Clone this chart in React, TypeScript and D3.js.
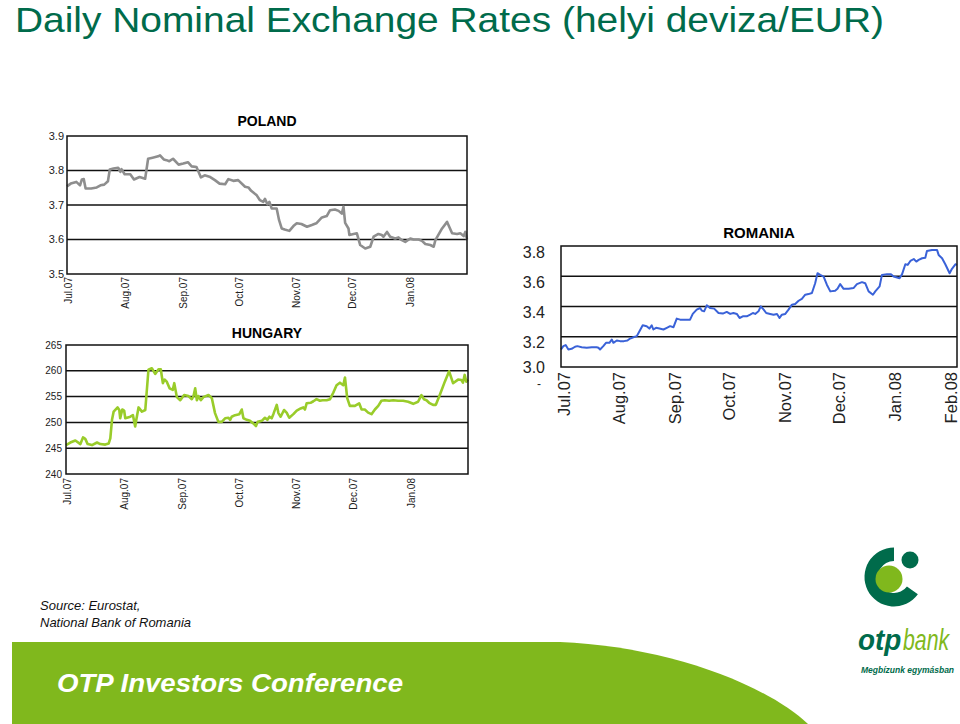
import * as d3 from 'd3';

// day offsets from 1 Jul 2007, exchange rate (local currency / EUR)
const polandSeries: [number, number][] = [
  [0, 3.754], [2, 3.762], [5, 3.767], [7, 3.757], [8, 3.774], [9, 3.775], [10, 3.748], [13, 3.748],
  [16, 3.751], [18, 3.757], [20, 3.759], [22, 3.769], [23, 3.803], [25, 3.806], [27.5, 3.808], [28.7, 3.796],
  [29.3, 3.804], [31, 3.789], [34, 3.789], [36, 3.774], [39, 3.781], [42, 3.776], [43.6, 3.834], [46, 3.837],
  [49, 3.841], [50, 3.844], [52, 3.832], [53.5, 3.83], [55, 3.827], [57, 3.834], [60, 3.817], [62.5, 3.82],
  [65, 3.824], [67, 3.812], [69.6, 3.81], [72, 3.78], [74, 3.786], [77, 3.781], [79.5, 3.772], [82, 3.762],
  [85, 3.76], [86.7, 3.775], [89.4, 3.77], [92, 3.772], [95.7, 3.753], [97.5, 3.751], [99, 3.741], [102, 3.728],
  [103.7, 3.714], [105.5, 3.709], [106.4, 3.718], [107.7, 3.702], [108.8, 3.709], [110, 3.69], [112.7, 3.69],
  [114, 3.656], [115.4, 3.632], [117, 3.629], [119.5, 3.625], [121.7, 3.639], [123.5, 3.647], [126, 3.645],
  [129, 3.637], [131.6, 3.642], [134, 3.647], [137, 3.664], [139.6, 3.668], [141.4, 3.685], [144, 3.687],
  [146, 3.683], [147.7, 3.675], [148.6, 3.695], [149.5, 3.648], [151.3, 3.632], [151.8, 3.613], [154, 3.616],
  [155.8, 3.618], [157.6, 3.584], [160.3, 3.574], [163, 3.579], [164.8, 3.608], [167.4, 3.616], [169.2, 3.613],
  [170.1, 3.608], [172, 3.622], [173.7, 3.608], [176.4, 3.603], [178.2, 3.606], [180, 3.598], [181.8, 3.593],
  [184.5, 3.603], [186.3, 3.6], [189, 3.6], [190.8, 3.596], [192.6, 3.587], [195.3, 3.584], [197.1, 3.579],
  [198, 3.598], [201.6, 3.632], [204.3, 3.651], [207, 3.618], [209.7, 3.616], [211.4, 3.618], [213.2, 3.61],
  [214.1, 3.622], [215, 3.6],
];

const hungarySeries: [number, number][] = [
  [0, 245.6], [2.3, 246.1], [5, 246.5], [7.7, 245.8], [9.1, 247.1], [10.3, 246.8], [11.6, 245.8], [13.9, 245.6],
  [16.6, 246.1], [18.3, 245.8], [21, 245.7], [22.8, 245.9], [23.7, 246.9], [24.6, 250.5], [25.5, 252.1],
  [27.6, 252.9], [28.5, 252.4], [29, 250.8], [30.1, 252.5], [31.1, 252.3], [31.7, 250.8], [34.4, 251.1],
  [35.8, 251.4], [37, 249.2], [37.6, 250.5], [38.8, 252.9], [40.6, 252.1], [42.4, 252.4], [44.1, 260.2],
  [45.9, 260.5], [47.7, 259.4], [49.5, 260.3], [50.7, 260.3], [51.8, 257.6], [52.7, 258.3], [53.9, 257.9],
  [55.4, 256.6], [57.1, 256.3], [57.9, 257.6], [59.3, 254.9], [61.1, 254.3], [63.2, 255.3], [65.5, 255.1],
  [67.3, 254.5], [68.2, 255.1], [69.1, 256.6], [70, 254.3], [70.8, 255.1], [72.1, 254.3], [73.5, 254.9],
  [76.2, 255.3], [78, 254.7], [79.7, 251.8], [81.5, 250.1], [83.3, 250.1], [85.1, 250.8], [86.9, 250.9],
  [87.8, 250.5], [88.6, 251.1], [90.4, 251.4], [92.7, 251.6], [94, 252.5], [94.9, 250.8], [96.7, 250.5],
  [98.4, 250.3], [100.2, 249.8], [101.6, 249.3], [102.5, 250.1], [104.7, 250.3], [106.4, 250.9], [107.7, 250.5],
  [108.8, 251.1], [110, 250.8], [110.9, 251.6], [112.7, 253.4], [113.6, 251.8], [114.8, 251.1], [116.6, 252.4],
  [118, 251.9], [119.4, 250.9], [121.6, 251.6], [123.4, 252.3], [125.5, 252.7], [126.9, 252.9], [127.8, 252.5],
  [128.7, 253.7], [130.8, 253.8], [132.3, 254.1], [134, 254.5], [135.8, 254.2], [137.2, 254.3], [139.4, 254.3],
  [141.2, 254.5], [143, 255.8], [144.7, 257.2], [146.5, 257.7], [148.3, 257.2], [149.2, 258.7], [150.4, 254.7],
  [151.8, 253.2], [154.5, 253.2], [156.8, 253.7], [158.1, 252.5], [159.8, 252.5], [161.6, 251.9], [163.4, 251.6],
  [165.2, 252.5], [167, 253.2], [168.7, 254.2], [170.5, 254.3], [172.8, 254.2], [175, 254.3], [177.6, 254.2],
  [180.3, 254.2], [183, 254.0], [185.7, 253.6], [188.3, 254.0], [190.1, 255.3], [191.4, 254.5], [192.8, 254.3],
  [194.2, 253.8], [196.3, 253.4], [197.8, 253.4], [199.9, 255.3], [202.6, 257.9], [204.9, 259.9], [207, 257.6],
  [209.7, 258.3], [211.5, 258.2], [212.3, 257.7], [213.2, 259.2], [214.1, 257.9], [215, 258.3],
];

const romaniaSeries: [number, number][] = [
  [-3, 3.116], [-1.7, 3.138], [-0.4, 3.145], [1.1, 3.116], [2.9, 3.12], [4.8, 3.134], [6.1, 3.138], [8.5, 3.131],
  [11.3, 3.127], [14.1, 3.131], [16.8, 3.131], [17.8, 3.127], [18.7, 3.116], [20.5, 3.138], [22, 3.16],
  [23.9, 3.16], [25.2, 3.182], [26.1, 3.16], [28, 3.175], [29.8, 3.171], [32, 3.171], [33.9, 3.175], [35.4, 3.188],
  [37.2, 3.197], [39.1, 3.204], [40.6, 3.237], [42.4, 3.276], [44.6, 3.27], [46.1, 3.254], [47.4, 3.276],
  [48.3, 3.248], [49.8, 3.259], [51.7, 3.254], [53.9, 3.248], [55.8, 3.259], [57.6, 3.27], [59.5, 3.263],
  [61.3, 3.32], [63.2, 3.313], [65.9, 3.313], [68.7, 3.313], [70.2, 3.351], [72.4, 3.379], [74.3, 3.39],
  [75.2, 3.373], [76.5, 3.368], [78, 3.408], [79.8, 3.39], [82.1, 3.386], [84.5, 3.357], [86.9, 3.353],
  [89.1, 3.364], [91, 3.351], [92.8, 3.357], [94.7, 3.351], [96.2, 3.324], [98, 3.335], [100.2, 3.335],
  [102.1, 3.346], [103.6, 3.357], [104.9, 3.351], [106.7, 3.368], [108, 3.401], [109.6, 3.379], [111, 3.357],
  [113.2, 3.351], [115.1, 3.346], [117, 3.351], [118.4, 3.324], [119.7, 3.346], [121.6, 3.351], [123.4, 3.379],
  [125.3, 3.412], [127.1, 3.416], [129, 3.438], [130.8, 3.451], [132.7, 3.478], [134.5, 3.482], [136.4, 3.489],
  [138.2, 3.554], [139.5, 3.62], [141, 3.609], [142.9, 3.598], [144.7, 3.544], [146.6, 3.5], [149.3, 3.504],
  [150.6, 3.517], [152.1, 3.548], [154, 3.517], [156.8, 3.517], [159.5, 3.522], [161.4, 3.548], [164.2, 3.561],
  [166, 3.554], [167.9, 3.5], [170.3, 3.478], [171.6, 3.5], [174, 3.533], [175.3, 3.609], [178.1, 3.614],
  [180.3, 3.614], [181.8, 3.598], [185.1, 3.587], [186.5, 3.614], [188.3, 3.679], [189.6, 3.675], [191.1, 3.701],
  [193, 3.714], [194.4, 3.697], [195.7, 3.708], [197.6, 3.719], [199.4, 3.723], [200.3, 3.767], [203.1, 3.774],
  [205.9, 3.774], [206.8, 3.741], [208.7, 3.719], [210.5, 3.679], [212.9, 3.62], [214.2, 3.649], [216.1, 3.679],
  [217, 3.675],
];

const monthDays = [0, 31, 62, 92, 123, 153, 184, 215];
const monthLabels = ['Jul.07', 'Aug.07', 'Sep.07', 'Oct.07', 'Nov.07', 'Dec.07', 'Jan.08', 'Feb.08'];

const polandTicks = [3.5, 3.6, 3.7, 3.8, 3.9];
const hungaryTicks = [240, 245, 250, 255, 260, 265];
const romaniaTicks = [3.0, 3.2, 3.4, 3.6, 3.8];

const FONT = 'Liberation Sans, Arial, Helvetica, sans-serif';
const DARK_GREEN = '#006b4b';
const LIGHT_GREEN = '#80b81d';

type PanelProps = {
  title: string;
  series: [number, number][];
  yDomain: [number, number];
  yTicks: number[];
  xDomain: [number, number];
  months: number;
  left: number;
  right: number;
  top: number;
  bottom: number;
  color: string;
  lineWidth: number;
  titleY: number;
  titleFont: number;
  yFont: number;
  xFont: number;
  yLabelX: number;
  yLabelShift: number;
  yFormat: (v: number) => string;
  xLabelGap: number;
  xLabelShift: number;
};

const Panel = (p: PanelProps) => {
  const x = d3.scaleLinear().domain(p.xDomain).range([p.left, p.right]);
  const y = d3.scaleLinear().domain(p.yDomain).range([p.bottom, p.top]);
  const line = d3
    .line<[number, number]>()
    .x((d) => x(d[0]))
    .y((d) => y(d[1]));

  return (
    <g fontFamily={FONT}>
      <text x={(p.left + p.right) / 2} y={p.titleY} textAnchor="middle" fontWeight="bold" fontSize={p.titleFont}>
        {p.title}
      </text>
      {p.yTicks.slice(1, -1).map((t) => (
        <line key={t} x1={p.left} x2={p.right} y1={y(t)} y2={y(t)} stroke="#111" strokeWidth={1.5} />
      ))}
      <path d={line(p.series) ?? ''} fill="none" stroke={p.color} strokeWidth={p.lineWidth} strokeLinejoin="round" />
      <rect x={p.left} y={p.top} width={p.right - p.left} height={p.bottom - p.top} fill="none" stroke="#111" strokeWidth={1.5} />
      {p.yTicks.map((t) => (
        <text
          key={t}
          x={p.yLabelX}
          y={Math.min(y(t) + p.yLabelShift, p.bottom)}
          dy="0.35em"
          textAnchor="end"
          fontSize={p.yFont}
          fill="#222"
        >
          {p.yFormat(t)}
        </text>
      ))}
      {monthDays.slice(0, p.months).map((d, i) => (
        <text
          key={d}
          transform={`translate(${x(d) + p.xLabelShift},${p.bottom + p.xLabelGap}) rotate(-90)`}
          dy="0.35em"
          textAnchor="end"
          fontSize={p.xFont}
          fill="#222"
        >
          {monthLabels[i]}
        </text>
      ))}
    </g>
  );
};

const Logo = () => {
  const arc = d3.arc()({
    innerRadius: 16,
    outerRadius: 29.5,
    startAngle: (126 * Math.PI) / 180,
    endAngle: 2 * Math.PI,
  });
  return (
    <g fontFamily={FONT} fontStyle="italic">
      <path d={arc ?? ''} transform="translate(894,577)" fill={DARK_GREEN} />
      <circle cx={889} cy={579} r={13.5} fill={LIGHT_GREEN} />
      <circle cx={910} cy={560} r={8.5} fill={DARK_GREEN} />
      {/* condensed wordmark: squeeze horizontally instead of textLength */}
      <text transform="translate(858,650) scale(0.93,1)" fontWeight="bold" fontSize={30} fill={DARK_GREEN}>
        otp
      </text>
      <text transform="translate(903,650) scale(0.71,1)" fontSize={30} fill={LIGHT_GREEN}>
        bank
      </text>
      <text x={861} y={673} fontWeight="bold" fontSize={8.5} fill={DARK_GREEN}>
        Megbízunk egymásban
      </text>
    </g>
  );
};

export default function App() {
  return (
    <svg width={960} height={724} style={{ position: 'absolute', left: 0, top: 0, background: '#fff' }}>
      <rect width={960} height={724} fill="#fff" />
      <text x={15} y={32} fontFamily={FONT} fontSize={35} fill={DARK_GREEN} textLength={869} lengthAdjust="spacingAndGlyphs">
        Daily Nominal Exchange Rates (helyi deviza/EUR)
      </text>

      <Panel
        title="POLAND"
        series={polandSeries}
        yDomain={[3.5, 3.9]}
        yTicks={polandTicks}
        xDomain={[0, 215]}
        months={7}
        left={67}
        right={467}
        top={136}
        bottom={274}
        color="#8e8e8e"
        lineWidth={2.6}
        titleY={126}
        titleFont={14}
        yFont={11}
        xFont={10}
        yLabelX={64}
        yLabelShift={0}
        yFormat={d3.format('.1f')}
        xLabelGap={3}
        xLabelShift={1}
      />
      <Panel
        title="HUNGARY"
        series={hungarySeries}
        yDomain={[240, 265]}
        yTicks={hungaryTicks}
        xDomain={[0, 215]}
        months={7}
        left={66}
        right={468}
        top={345}
        bottom={474}
        color="#99cc2a"
        lineWidth={2.6}
        titleY={338}
        titleFont={14}
        yFont={10}
        xFont={10}
        yLabelX={62}
        yLabelShift={0}
        yFormat={d3.format('d')}
        xLabelGap={4}
        xLabelShift={1}
      />
      <Panel
        title="ROMANIA"
        series={romaniaSeries}
        yDomain={[3.0, 3.8]}
        yTicks={romaniaTicks}
        xDomain={[-3, 217]}
        months={8}
        left={561}
        right={957}
        top={246}
        bottom={367}
        color="#3a62d8"
        lineWidth={2}
        titleY={238}
        titleFont={15}
        yFont={16}
        xFont={16.5}
        yLabelX={545}
        yLabelShift={6}
        yFormat={d3.format('.1f')}
        xLabelGap={5}
        xLabelShift={-2.5}
      />
      <text x={541} y={388} fontFamily={FONT} fontSize={12} textAnchor="end" fill="#222">-</text>

      <text fontFamily={FONT} fontStyle="italic" fontSize={13} fill="#111">
        <tspan x={40} y={610}>Source: Eurostat,</tspan>
        <tspan x={40} y={627}>National Bank of Romania</tspan>
      </text>

      <path d="M12,642 L560,642 C660,646 760,680 808,724 L12,724 Z" fill={LIGHT_GREEN} />
      <text x={57} y={692} fontFamily={FONT} fontStyle="italic" fontWeight="bold" fontSize={26} fill="#fff" textLength={346} lengthAdjust="spacingAndGlyphs">
        OTP Investors Conference
      </text>

      <Logo />
    </svg>
  );
}
